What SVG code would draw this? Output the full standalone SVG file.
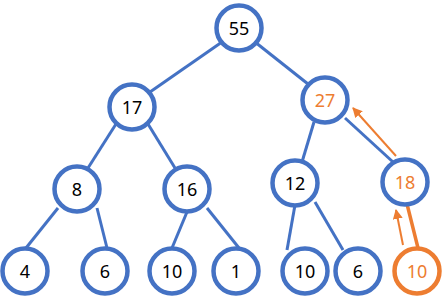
<svg xmlns="http://www.w3.org/2000/svg" width="443" height="299" viewBox="0 0 443 299">
<defs>
<style>
.n{fill:#fff;stroke:#4472C4;stroke-width:4.5}
.o{fill:#fff;stroke:#ED7D31;stroke-width:4.5}
.e{stroke:#4472C4;stroke-width:3;fill:none}
.eo{stroke:#ED7D31;stroke-width:3.5;fill:none}
.a{stroke:#ED7D31;stroke-width:2;fill:none}
text{font-family:"Noto Sans","Open Sans","DejaVu Sans",sans-serif;font-size:18px;text-anchor:middle;dominant-baseline:central;fill:#000}
.to{fill:#ED7D31}
</style>
<marker id="ah" viewBox="0 0 10 10" refX="9" refY="5" markerWidth="5" markerHeight="5" orient="auto">
<path d="M0,0L10,5L0,10z" fill="#ED7D31"/>
</marker>
</defs>
<g id="connectors">
<line class="e" x1="222" y1="42" x2="150" y2="92"/>
<line class="e" x1="255" y1="42" x2="308" y2="84"/>
<line class="e" x1="116" y1="124" x2="88" y2="168"/>
<line class="e" x1="148" y1="124" x2="175" y2="168"/>
<line class="e" x1="58" y1="208" x2="26" y2="248"/>
<line class="e" x1="97" y1="208" x2="107" y2="248"/>
<line class="e" x1="187" y1="212" x2="172" y2="248"/>
<line class="e" x1="207" y1="208" x2="239" y2="248"/>
<line class="e" x1="314" y1="122" x2="302" y2="162"/>
<line class="e" x1="345" y1="118" x2="393" y2="162"/>
<line class="e" x1="295" y1="205" x2="287" y2="250"/>
<line class="e" x1="315" y1="202" x2="343" y2="250"/>
<line class="eo" x1="407" y1="204" x2="418" y2="248"/>
<line class="a" x1="403" y1="245" x2="396" y2="210" marker-end="url(#ah)"/>
<line class="a" x1="396" y1="156" x2="353" y2="108" marker-end="url(#ah)"/>
</g>
<g id="n55"><circle class="n" cx="239" cy="28" r="22.5"/><text x="239" y="28">55</text></g>
<g id="n17"><circle class="n" cx="132" cy="107" r="22.5"/><text x="132" y="107">17</text></g>
<g id="n27"><circle class="n" cx="325" cy="100" r="22.5"/><text class="to" x="325" y="100">27</text></g>
<g id="n8"><circle class="n" cx="77" cy="189" r="22.5"/><text x="77" y="189">8</text></g>
<g id="n16"><circle class="n" cx="187" cy="189" r="22.5"/><text x="187" y="189">16</text></g>
<g id="n12"><circle class="n" cx="295" cy="183" r="22.5"/><text x="295" y="183">12</text></g>
<g id="n18"><circle class="n" cx="405" cy="182" r="22.5"/><text class="to" x="405" y="182">18</text></g>
<g id="n4"><circle class="n" cx="25" cy="271" r="22.5"/><text x="25" y="271">4</text></g>
<g id="n6a"><circle class="n" cx="105" cy="271" r="22.5"/><text x="105" y="271">6</text></g>
<g id="n10a"><circle class="n" cx="172" cy="271" r="22.5"/><text x="172" y="271">10</text></g>
<g id="n1"><circle class="n" cx="236" cy="271" r="22.5"/><text x="236" y="271">1</text></g>
<g id="n10b"><circle class="n" cx="305" cy="271" r="22.5"/><text x="305" y="271">10</text></g>
<g id="n6b"><circle class="n" cx="358" cy="271" r="22.5"/><text x="358" y="271">6</text></g>
<g id="n10c"><circle class="o" cx="417" cy="271" r="22.5"/><text class="to" x="417" y="271">10</text></g>
</svg>
